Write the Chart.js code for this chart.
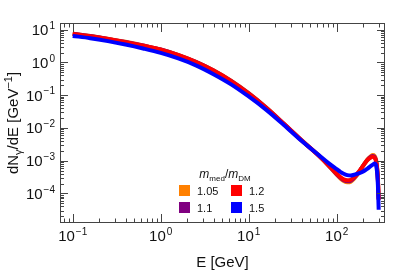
<!DOCTYPE html>
<html>
<head>
<meta charset="utf-8">
<script src="https://cdn.jsdelivr.net/npm/chart.js@4/dist/chart.umd.min.js"></script>
<style>
  html, body { margin: 0; padding: 0; background: #fff; }
  canvas { display: block; }
</style>
</head>
<body>
<canvas id="spectrum" width="394" height="273"></canvas>
<script>
// photon energies [GeV]
const energies = [0.1, 0.158, 0.251, 0.398, 0.631, 1, 1.585, 2.51, 3.98, 6.31, 10, 15.85, 25.1, 39.8, 63.1, 79.4,
  100, 110, 120, 132, 145, 158, 178, 200, 224, 245, 257, 269, 279, 285, 290, 294, 297, 300];

// dN/dE for each mediator/DM mass ratio
const ratio105 = [7.58, 6.46, 5.31, 4.27, 3.31, 2.51, 1.70, 1.047, 0.575, 0.275, 0.115, 0.0417, 0.0135, 4.27e-3, 1.41e-3, 7.41e-4,
  3.72e-4, 2.88e-4, 2.40e-4, 2.19e-4, 2.29e-4, 2.82e-4, 4.27e-4, 7.08e-4, 1.10e-3, 1.38e-3, 1.48e-3, 1.41e-3, 1.12e-3, 7.94e-4, 5.01e-4, 2.82e-4, 1.41e-4, 7.08e-5];
const ratio110 = [7.50, 6.38, 5.25, 4.22, 3.28, 2.48, 1.68, 1.035, 0.569, 0.272, 0.113, 0.0412, 0.0134, 4.22e-3, 1.40e-3, 7.5e-4,
  3.85e-4, 3.02e-4, 2.54e-4, 2.34e-4, 2.45e-4, 2.99e-4, 4.42e-4, 7.08e-4, 1.07e-3, 1.32e-3, 1.40e-3, 1.32e-3, 1.06e-3, 7.5e-4, 4.73e-4, 2.66e-4, 1.33e-4, 6.68e-5];
const ratio120 = [7.41, 6.31, 5.19, 4.17, 3.24, 2.45, 1.66, 1.023, 0.562, 0.269, 0.112, 0.0407, 0.0132, 4.17e-3, 1.38e-3, 7.59e-4,
  3.98e-4, 3.16e-4, 2.69e-4, 2.51e-4, 2.63e-4, 3.16e-4, 4.57e-4, 7.08e-4, 1.05e-3, 1.26e-3, 1.32e-3, 1.23e-3, 1.0e-3, 7.08e-4, 4.47e-4, 2.51e-4, 1.26e-4, 6.31e-5];
const ratio150 = [6.46, 5.50, 4.47, 3.51, 2.66, 1.95, 1.32, 0.813, 0.437, 0.214, 0.0912, 0.0355, 0.0123, 4.07e-3, 1.45e-3, 8.71e-4,
  5.50e-4, 4.57e-4, 3.98e-4, 3.63e-4, 3.55e-4, 3.72e-4, 4.07e-4, 4.68e-4, 5.75e-4, 6.92e-4, 7.59e-4, 8.13e-4, 7.59e-4, 5.62e-4, 3.55e-4, 1.78e-4, 7.94e-5, 3.16e-5];

const seriesLabels = ['1.05', '1.1', '1.2', '1.5'];
const seriesColors = ['#ff8000', '#800080', '#ff0000', '#0000ff'];
const seriesValues = [ratio105, ratio110, ratio120, ratio150];

// axis ranges and labelled decades
const xRange = [0.0717, 354];
const yRange = [1.25e-5, 16];
const xTickExps = [-1, 0, 1, 2];
const yTickExps = [1, 0, -1, -2, -3, -4];

const FONT = '"Liberation Sans", Arial, sans-serif';

// draw "10^exp" style text
function drawPower(ctx, base, exp, x, y, size, align) {
  ctx.font = `${size}px ${FONT}`;
  const wb = ctx.measureText(base).width;
  ctx.font = `${Math.round(size * 0.68)}px ${FONT}`;
  const we = ctx.measureText(exp).width;
  const total = wb + we + 1;
  let x0 = x;
  if (align === 'center') x0 = x - total / 2;
  if (align === 'right') x0 = x - total;
  ctx.textAlign = 'left';
  ctx.font = `${size}px ${FONT}`;
  ctx.fillText(base, x0, y);
  ctx.font = `${Math.round(size * 0.68)}px ${FONT}`;
  ctx.fillText(exp, x0 + wb + 1, y - size * 0.42);
}

function minusExp(e) {
  return e < 0 ? '\u2212' + Math.abs(e) : String(e);
}

// rich text runs: [text, style], style is n, i, sub, sup
function runFont(st, size) {
  let s = size, dy = 0, ital = '';
  if (st === 'sub') { s = Math.round(size * 0.7); dy = size * 0.25; }
  if (st === 'sup') { s = Math.round(size * 0.7); dy = -size * 0.42; }
  if (st === 'i') ital = 'italic ';
  return { font: `${ital}${s}px ${FONT}`, dy };
}

function drawRuns(ctx, runs, x, y, size) {
  let cx = x;
  runs.forEach(([t, st]) => {
    const f = runFont(st, size);
    ctx.font = f.font;
    ctx.fillText(t, cx, y + f.dy);
    cx += ctx.measureText(t).width;
  });
}

function measureRuns(ctx, runs, size) {
  let w = 0;
  runs.forEach(([t, st]) => {
    ctx.font = runFont(st, size).font;
    w += ctx.measureText(t).width;
  });
  return w;
}

const framePlugin = {
  id: 'frame',
  afterDatasetsDraw(chart) {
    const ctx = chart.ctx;
    const a = chart.chartArea;
    const xs = chart.scales.x, ys = chart.scales.y;
    ctx.save();
    ctx.strokeStyle = '#444';
    ctx.lineWidth = 1;
    ctx.strokeRect(a.left + 0.5, a.top + 0.5, a.right - a.left - 1, a.bottom - a.top - 1);

    // log ticks on all four sides, pointing inward
    ctx.beginPath();
    for (let d = -2; d <= 3; d++) {
      for (let m = 1; m <= 9; m++) {
        const v = m * Math.pow(10, d);
        if (v < xRange[0] || v > xRange[1]) continue;
        const px = Math.round(xs.getPixelForValue(v)) + 0.5;
        const len = m === 1 ? 9 : 4.5;
        ctx.moveTo(px, a.bottom); ctx.lineTo(px, a.bottom - len);
        ctx.moveTo(px, a.top); ctx.lineTo(px, a.top + len);
      }
    }
    for (let d = -6; d <= 2; d++) {
      for (let m = 1; m <= 9; m++) {
        const v = m * Math.pow(10, d);
        if (v < yRange[0] || v > yRange[1]) continue;
        const py = Math.round(ys.getPixelForValue(v)) + 0.5;
        const len = m === 1 ? 8 : 4;
        ctx.moveTo(a.left, py); ctx.lineTo(a.left + len, py);
        ctx.moveTo(a.right, py); ctx.lineTo(a.right - len, py);
      }
    }
    ctx.stroke();

    // tick labels
    ctx.fillStyle = '#111';
    ctx.textBaseline = 'alphabetic';
    xTickExps.forEach(e => {
      const px = xs.getPixelForValue(Math.pow(10, e));
      drawPower(ctx, '10', minusExp(e), px, 241, 15, 'center');
    });
    yTickExps.forEach(e => {
      const py = ys.getPixelForValue(Math.pow(10, e));
      drawPower(ctx, '10', minusExp(e), 55, py + 5.5, 15, 'right');
    });

    // axis titles
    ctx.textAlign = 'left';
    ctx.font = `15px ${FONT}`;
    const xt = 'E [GeV]';
    const xw = ctx.measureText(xt).width;
    ctx.fillText(xt, (a.left + a.right) / 2 - xw / 2, 267);

    const yRuns = [['dN', 'n'], ['\u03b3', 'sub'], ['/dE [GeV', 'n'], ['\u22121', 'sup'], [']', 'n']];
    const yw = measureRuns(ctx, yRuns, 15);
    ctx.save();
    ctx.translate(18, (a.top + a.bottom) / 2);
    ctx.rotate(-Math.PI / 2);
    drawRuns(ctx, yRuns, -yw / 2, 0, 15);
    ctx.restore();

    // legend: two columns, title on top
    const titleRuns = [['m', 'i'], ['med', 'sub'], ['/', 'n'], ['m', 'i'], ['DM', 'sub']];
    const tw = measureRuns(ctx, titleRuns, 12);
    drawRuns(ctx, titleRuns, 225 - tw / 2, 178, 12);
    const cols = [179, 231];
    const rows = [190.5, 207.5];
    const slots = [[0, 0], [0, 1], [1, 0], [1, 1]]; // [col,row] per series
    seriesLabels.forEach((lab, i) => {
      const [c, r] = slots[i];
      ctx.fillStyle = seriesColors[i];
      ctx.fillRect(cols[c], rows[r] - 5.5, 11, 11);
      ctx.fillStyle = '#111';
      ctx.font = `11px ${FONT}`;
      ctx.fillText(lab, cols[c] + 18, rows[r] + 4);
    });
    ctx.restore();
  }
};

const datasets = seriesValues.map((vals, i) => ({
  label: seriesLabels[i],
  data: energies.map((e, k) => ({ x: e, y: vals[k] })),
  borderColor: seriesColors[i],
  backgroundColor: seriesColors[i],
  borderWidth: 4,
  pointRadius: 0,
  fill: false,
  cubicInterpolationMode: 'monotone',
  order: 3 - i
}));

new Chart(document.getElementById('spectrum').getContext('2d'), {
  type: 'line',
  data: { datasets },
  options: {
    responsive: false,
    animation: false,
    devicePixelRatio: 1,
    layout: { padding: { left: 60, top: 23, right: 9, bottom: 50 } },
    plugins: { legend: { display: false }, tooltip: { enabled: false } },
    scales: {
      x: { type: 'logarithmic', min: xRange[0], max: xRange[1], display: false },
      y: { type: 'logarithmic', min: yRange[0], max: yRange[1], display: false }
    }
  },
  plugins: [framePlugin]
});
</script>
</body>
</html>
